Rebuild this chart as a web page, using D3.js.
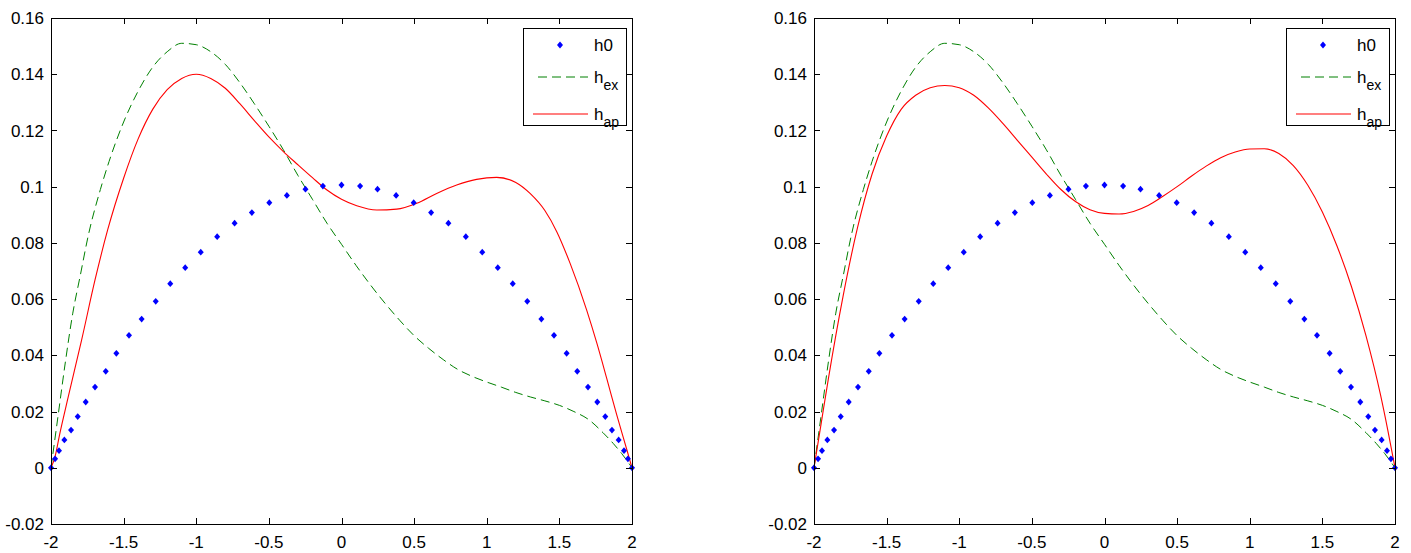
<!DOCTYPE html>
<html><head><meta charset="utf-8">
<script src="https://cdn.jsdelivr.net/npm/d3@7"></script>
<style>
html,body{margin:0;padding:0;background:#fff;}
svg text{font-family:"Liberation Sans",Arial,sans-serif;fill:#000;}
</style></head>
<body><svg id="c" width="1411" height="553"></svg>
<script>
const xTicks = [-2,-1.5,-1,-0.5,0,0.5,1,1.5,2];
const xTickLabels = ["-2","-1.5","-1","-0.5","0","0.5","1","1.5","2"];
const yTicks = [-0.02,0,0.02,0.04,0.06,0.08,0.1,0.12,0.14,0.16];
const yTickLabels = ["-0.02","0","0.02","0.04","0.06","0.08","0.1","0.12","0.14","0.16"];

// h0 (blue diamonds), same in both panels
const h0X = [-2,-1.972,-1.945,-1.908,-1.862,-1.816,-1.761,-1.697,-1.623,-1.55,-1.463,-1.376,-1.279,-1.179,-1.076,-0.969,-0.856,-0.736,-0.617,-0.497,-0.376,-0.248,-0.128,
  0,0.128,0.248,0.376,0.497,0.617,0.736,0.856,0.969,1.076,1.179,1.279,1.376,1.463,1.55,1.623,1.697,1.761,1.816,1.862,1.908,1.945,1.972,2];
const h0Y = [0,0.0032,0.0061,0.0099,0.0134,0.0182,0.0234,0.0287,0.0343,0.0407,0.0471,0.0529,0.0592,0.0655,0.0712,0.0767,0.0822,0.087,0.0908,0.0943,0.0969,0.0991,0.1002,
  0.1006,0.1002,0.0991,0.0969,0.0943,0.0908,0.087,0.0822,0.0767,0.0712,0.0655,0.0592,0.0529,0.0471,0.0407,0.0343,0.0287,0.0234,0.0182,0.0134,0.0099,0.0061,0.0032,0];

// h_ex (green dashed), same in both panels
const hexX = [-2,-1.95,-1.9,-1.85,-1.8,-1.74,-1.66,-1.6,-1.5,-1.4,-1.3,-1.2,-1.1,-1.0,-0.9,-0.8,-0.7,-0.6,-0.5,-0.4,-0.3,-0.2,-0.1,0,0.1,0.2,0.3,0.4,0.5,0.6,0.7,0.8,0.9,1.0,1.1,1.2,1.3,1.4,1.5,1.6,1.7,1.8,1.87,1.93,2];
const hexY = [0,0.019,0.038,0.055,0.068,0.0834,0.099,0.109,0.123,0.134,0.1425,0.148,0.151,0.1505,0.148,0.1435,0.137,0.1295,0.1215,0.1131,0.104,0.0955,0.087,0.0795,0.072,0.065,0.0585,0.0525,0.047,0.0425,0.0385,0.035,0.0325,0.0305,0.0287,0.0268,0.0252,0.0238,0.0222,0.02,0.0172,0.0125,0.0087,0.005,0];

// h_ap (red solid), left panel
const hapLX = [-2,-1.972,-1.94,-1.881,-1.789,-1.697,-1.61,-1.5,-1.4,-1.3,-1.2,-1.1,-1.0,-0.9,-0.8,-0.7,-0.6,-0.5,-0.4,-0.3,-0.2,-0.1,0,0.105,0.243,0.38,0.518,0.655,0.793,0.93,1.068,1.2,1.3,1.4,1.482,1.574,1.688,1.757,1.826,1.895,1.964,2];
const hapLY = [0,0.004,0.012,0.0253,0.0455,0.0668,0.0846,0.103,0.117,0.1275,0.1345,0.1385,0.14,0.1385,0.135,0.1295,0.1235,0.1177,0.1125,0.1078,0.1032,0.0988,0.0955,0.0932,0.0917,0.092,0.0941,0.0976,0.1006,0.1026,0.1033,0.1015,0.0975,0.0915,0.084,0.0727,0.0561,0.0445,0.0318,0.0188,0.0065,0];

// h_ap (red solid), right panel
const hapRX = [-2,-1.95,-1.9,-1.8,-1.7,-1.6,-1.5,-1.4,-1.3,-1.2,-1.1,-1.0,-0.9,-0.8,-0.7,-0.6,-0.5,-0.4,-0.3,-0.2,-0.1,0,0.1,0.2,0.3,0.4,0.5,0.6,0.7,0.8,0.9,1.0,1.1,1.2,1.3,1.4,1.5,1.6,1.7,1.8,1.9,1.95,2];
const hapRY = [0,0.016,0.032,0.061,0.0855,0.1045,0.118,0.1275,0.1325,0.1352,0.136,0.1352,0.1325,0.128,0.1225,0.1165,0.1105,0.1045,0.099,0.0947,0.0918,0.0905,0.0903,0.0912,0.0933,0.0965,0.1,0.1038,0.1073,0.1103,0.1123,0.1134,0.1135,0.1118,0.1075,0.1005,0.091,0.079,0.0645,0.047,0.026,0.0135,0];

const legendNames = ["h0","h","h"];
const legendSubs = ["","ex","ap"];

const svg = d3.select("#c");
const yTop = 18, yBottom = 524;
const panels = [
  {left:51, right:632, hx:hapLX, hy:hapLY},
  {left:814, right:1395, hx:hapRX, hy:hapRY}
];
const FS = 17;

panels.forEach(p => {
  const x = d3.scaleLinear().domain([-2,2]).range([p.left,p.right]);
  const y = d3.scaleLinear().domain([-0.02,0.16]).range([yBottom,yTop]);
  const g = svg.append("g");

  const line = d3.line().x(d=>x(d[0])).y(d=>y(d[1])).curve(d3.curveMonotoneX);
  g.append("path").datum(hexX.map((v,i)=>[v,hexY[i]]))
    .attr("d",line).attr("fill","none").attr("stroke","#008000").attr("stroke-width",1)
    .attr("stroke-dasharray","9,5");
  g.append("path").datum(p.hx.map((v,i)=>[v,p.hy[i]]))
    .attr("d",line).attr("fill","none").attr("stroke","#ff0000").attr("stroke-width",1.1);
  const diamond = "M0,-3.4L3,0L0,3.4L-3,0Z";
  g.selectAll(".pt").data(h0X.map((v,i)=>[v,h0Y[i]])).enter().append("path")
    .attr("d",diamond).attr("transform",d=>`translate(${x(d[0])},${y(d[1])})`)
    .attr("fill","#0000ff").attr("stroke","none");

  const ax = g.append("g");
  ax.append("rect").attr("x",p.left+0.5).attr("y",yTop+0.5).attr("width",p.right-p.left).attr("height",yBottom-yTop)
    .attr("fill","none").attr("stroke","#000").attr("stroke-width",1);
  const tl = 6;
  xTicks.forEach((t,i)=>{
    const xx = Math.round(x(t))+0.5;
    ax.append("line").attr("x1",xx).attr("x2",xx).attr("y1",yBottom).attr("y2",yBottom-tl).attr("stroke","#000");
    ax.append("line").attr("x1",xx).attr("x2",xx).attr("y1",yTop).attr("y2",yTop+tl).attr("stroke","#000");
    ax.append("text").attr("x",x(t)).attr("y",yBottom+24).attr("text-anchor","middle")
      .attr("font-size",FS).text(xTickLabels[i]);
  });
  yTicks.forEach((t,i)=>{
    const yy = Math.round(y(t))+0.5;
    ax.append("line").attr("x1",p.left).attr("x2",p.left+tl).attr("y1",yy).attr("y2",yy).attr("stroke","#000");
    ax.append("line").attr("x1",p.right).attr("x2",p.right-tl).attr("y1",yy).attr("y2",yy).attr("stroke","#000");
    ax.append("text").attr("x",p.left-7).attr("y",y(t)).attr("dy","0.36em").attr("text-anchor","end")
      .attr("font-size",FS).text(yTickLabels[i]);
  });

  const lx = p.right-109, ly = 28, lw = 103, lh = 97;
  const lg = g.append("g");
  lg.append("rect").attr("x",lx+0.5).attr("y",ly+0.5).attr("width",lw).attr("height",lh)
    .attr("fill","#fff").attr("stroke","#000").attr("stroke-width",1);
  const rows = [45,77,114];
  lg.append("path").attr("d",diamond).attr("transform",`translate(${lx+37},${rows[0]})`).attr("fill","#0000ff");
  lg.append("line").attr("x1",lx+15).attr("x2",lx+65).attr("y1",rows[1]).attr("y2",rows[1])
    .attr("stroke","#008000").attr("stroke-dasharray","9,5");
  lg.append("line").attr("x1",lx+10).attr("x2",lx+65).attr("y1",rows[2]).attr("y2",rows[2])
    .attr("stroke","#ff0000").attr("stroke-width",1.1);
  legendNames.forEach((n,i)=>{
    const t = lg.append("text").attr("x",lx+71).attr("y",rows[i]+6).attr("font-size",FS);
    t.append("tspan").text(n);
    if (legendSubs[i]) t.append("tspan").attr("font-size",14).attr("dy",7).text(legendSubs[i]);
  });
});
</script></body></html>
